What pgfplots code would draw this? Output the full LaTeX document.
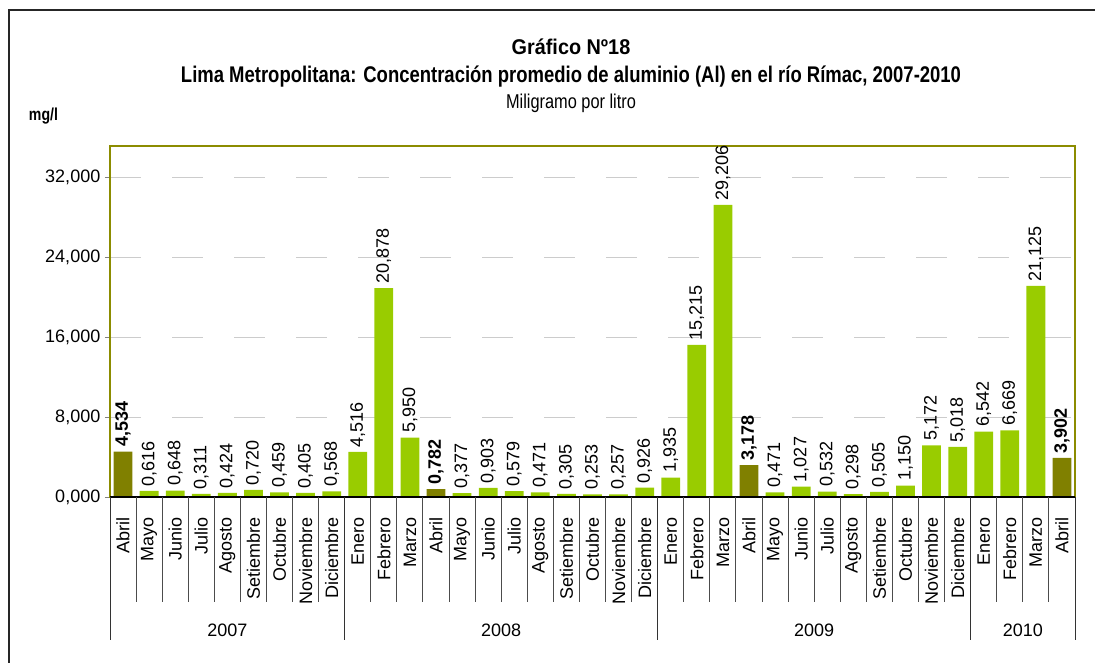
\documentclass[border=0pt]{standalone}
\usepackage{pgfplots}
\pgfplotsset{compat=1.18}
\usepackage{fontspec}
\setmainfont{Liberation Sans}
\usepackage{graphicx}

\definecolor{lima}{HTML}{99CC00}
\definecolor{oliva}{HTML}{808000}
\definecolor{marco}{HTML}{8C8C00}

\begin{document}
\begin{tikzpicture}
\path[use as bounding box] (0,0) rectangle (821.25pt,496.5pt);
\draw[line width=0.8pt, black!85] (6.75pt,-2pt) -- (6.75pt,489pt) -- (830pt,489pt);

% titulos
\node at (428.25pt,461.25pt) {\resizebox{89pt}{\height}{\fontsize{16}{18}\selectfont\bfseries Gráfico  Nº18}};
\node at (428.25pt,438.75pt) {\resizebox{585pt}{\height}{\fontsize{17}{19}\selectfont\bfseries Lima Metropolitana: Concentración promedio de aluminio (Al) en el río Rímac, 2007-2010}};
\node at (428.25pt,419.25pt) {\resizebox{97.5pt}{\height}{\fontsize{15}{17}\selectfont Miligramo por litro}};
\node at (32.6pt,409.5pt) {\resizebox{21.75pt}{\height}{\fontsize{13}{15}\selectfont\bfseries mg/l}};

\begin{axis}[
  at={(82.5pt,123.75pt)}, anchor=south west,
  scale only axis, width=723.75pt, height=263.25pt,
  xmin=-0.5, xmax=36.5, ymin=0, ymax=35.1,
  ybar, bar width=0.72,
  clip=false,
  axis line style={draw=marco, line width=1pt},
  ytick={0,8,16,24,32},
  scaled y ticks=false,
  yticklabel style={font=\fontsize{13.5}{15}\selectfont,
    /pgf/number format/.cd, fixed, fixed zerofill, precision=3, use comma, 1000 sep={}, assume math mode=true},
  tick align=outside, major tick length=3.75pt, ytick pos=left,
  xtick style={draw=none},
  ymajorgrids,
  grid style={draw=gray!40, dash pattern=on 23.25pt off 23.25pt, line width=0.75pt},
  xtick={0,...,36},
  xticklabels={Abril,Mayo,Junio,Julio,Agosto,Setiembre,Octubre,Noviembre,Diciembre,
    Enero,Febrero,Marzo,Abril,Mayo,Junio,Julio,Agosto,Setiembre,Octubre,Noviembre,Diciembre,
    Enero,Febrero,Marzo,Abril,Mayo,Junio,Julio,Agosto,Setiembre,Octubre,Noviembre,Diciembre,
    Enero,Febrero,Marzo,Abril},
  xticklabel style={rotate=90, anchor=east, font=\fontsize{13.5}{15}\selectfont},
  xticklabel shift=8pt,
  nodes near coords,
  every node near coord/.append style={rotate=90, anchor=west, font=\fontsize{13.5}{15}\selectfont, black,
    /pgf/number format/.cd, fixed, fixed zerofill, precision=3, use comma, assume math mode=true},
]
\addplot[fill=lima, draw=none, bar shift=0pt] coordinates {
  (1,0.616) (2,0.648) (3,0.311) (4,0.424) (5,0.720) (6,0.459) (7,0.405) (8,0.568)
  (9,4.516) (10,20.878) (11,5.950) (13,0.377) (14,0.903) (15,0.579) (16,0.471)
  (17,0.305) (18,0.253) (19,0.257) (20,0.926)
  (21,1.935) (22,15.215) (23,29.206) (25,0.471) (26,1.027) (27,0.532) (28,0.298)
  (29,0.505) (30,1.150) (31,5.172) (32,5.018)
  (33,6.542) (34,6.669) (35,21.125)
};
\addplot[fill=oliva, draw=none, bar shift=0pt,
  every node near coord/.append style={/tikz/font=\fontsize{13.5}{15}\selectfont\bfseries}] coordinates {
  (0,4.534) (12,0.782) (24,3.178) (36,3.902)
};
\draw[black, line width=1pt] (axis cs:-0.5,0) -- (axis cs:36.5,0);
\pgfplotsinvokeforeach{-0.5,0.5,...,36.5}{
  \draw[black!70, line width=0.75pt] (axis cs:#1,0) -- ++(0pt,-78.75pt);
}
\pgfplotsinvokeforeach{-0.5,8.5,20.5,32.5,36.5}{
  \draw[black!80, line width=0.75pt] (axis cs:#1,0) -- ++(0pt,-107.25pt);
}
\node[font=\fontsize{13.5}{15}\selectfont] at ([yshift=-99.75pt]axis cs:4,0) {2007};
\node[font=\fontsize{13.5}{15}\selectfont] at ([yshift=-99.75pt]axis cs:14.5,0) {2008};
\node[font=\fontsize{13.5}{15}\selectfont] at ([yshift=-99.75pt]axis cs:26.5,0) {2009};
\node[font=\fontsize{13.5}{15}\selectfont] at ([yshift=-99.75pt]axis cs:34.5,0) {2010};
\end{axis}
\end{tikzpicture}
\end{document}
